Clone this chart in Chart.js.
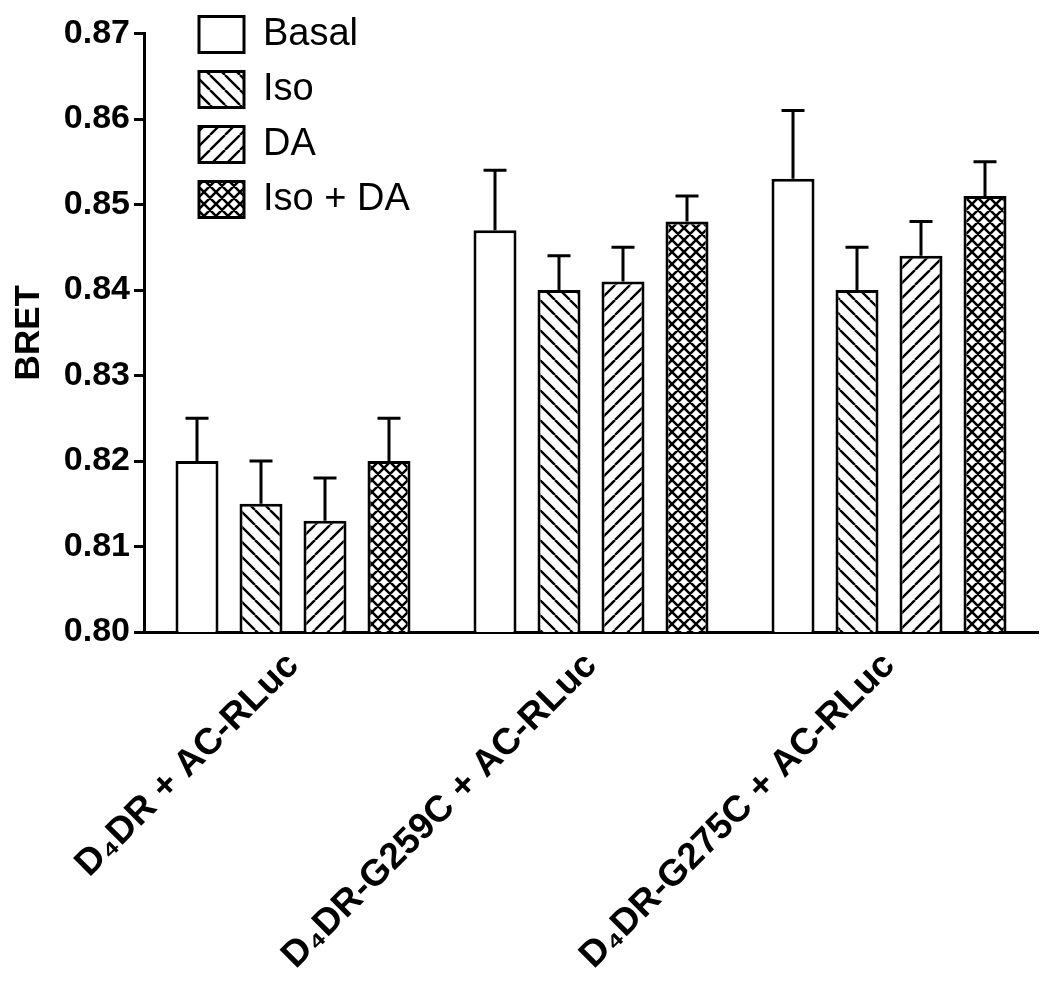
<!DOCTYPE html>
<html><head><meta charset="utf-8">
<script src="https://cdn.jsdelivr.net/npm/chart.js@4.4.1/dist/chart.umd.min.js"></script>
<style>html,body{margin:0;padding:0;background:#fff}#wrap{width:1050px;height:983px}</style>
</head><body><div id="wrap"><canvas id="c" width="1050" height="983"></canvas></div>
<script>
// ---- data ----
const categories = ['D\u2084DR + AC-RLuc', 'D\u2084DR-G259C + AC-RLuc', 'D\u2084DR-G275C + AC-RLuc'];
const seriesNames = ['Basal', 'Iso', 'DA', 'Iso + DA'];
const basal    = [0.820, 0.847, 0.853];
const basalSem = [0.005, 0.007, 0.008];
const iso      = [0.815, 0.840, 0.840];
const isoSem   = [0.005, 0.004, 0.005];
const da       = [0.813, 0.841, 0.844];
const daSem    = [0.005, 0.004, 0.004];
const isoDa    = [0.820, 0.848, 0.851];
const isoDaSem = [0.005, 0.003, 0.004];
const yTicks   = [0.80, 0.81, 0.82, 0.83, 0.84, 0.85, 0.86, 0.87];
const yTitle   = 'BRET';

const FONT = "'Liberation Sans', Arial, Helvetica, sans-serif";
Chart.defaults.font.family = FONT;
Chart.defaults.color = '#000';

function makePattern(kind) {
  const s = kind === 'cross' ? 12 : 15;
  const c = document.createElement('canvas');
  c.width = s; c.height = s;
  const g = c.getContext('2d');
  g.fillStyle = '#fff'; g.fillRect(0, 0, s, s);
  g.strokeStyle = '#000';
  g.lineWidth = kind === 'cross' ? 2.5 : 2.4;
  g.beginPath();
  for (let k = -1; k <= 1; k++) {
    if (kind === 'back' || kind === 'cross') { g.moveTo(k * s, 0); g.lineTo(k * s + s, s); }
    if (kind === 'fwd' || kind === 'cross') { g.moveTo(k * s, s); g.lineTo(k * s + s, 0); }
  }
  g.stroke();
  return g.createPattern(c, 'repeat');
}

const values = [basal, iso, da, isoDa];
const sems = [basalSem, isoSem, daSem, isoDaSem];
const fills = ['#ffffff', makePattern('back'), makePattern('fwd'), makePattern('cross')];

const datasets = seriesNames.map((name, i) => ({
  label: name,
  data: values[i],
  sem: sems[i],
  backgroundColor: fills[i],
  borderColor: '#000',
  borderWidth: 3,
  categoryPercentage: 0.859,
  barPercentage: 0.672
}));

const errorBars = {
  id: 'errorBars',
  afterDatasetsDraw(chart) {
    const ctx = chart.ctx;
    const yS = chart.scales.y;
    ctx.save();
    ctx.strokeStyle = '#000';
    ctx.lineWidth = 3;
    chart.data.datasets.forEach((ds, i) => {
      const meta = chart.getDatasetMeta(i);
      meta.data.forEach((bar, j) => {
        const top = yS.getPixelForValue(ds.data[j] + ds.sem[j]);
        ctx.beginPath();
        ctx.moveTo(bar.x, bar.y);
        ctx.lineTo(bar.x, top);
        ctx.moveTo(bar.x - 11.5, top);
        ctx.lineTo(bar.x + 11.5, top);
        ctx.stroke();
      });
    });
    ctx.restore();
  }
};

const legendPlace = {
  id: 'legendPlace',
  beforeDraw(chart) {
    const lg = chart.legend;
    if (!lg) return;
    const pad = lg.options.labels.padding;
    lg.left = 199 - pad;
    lg.top = 15.5 - pad;
    lg.bottom = lg.top + 300;
  }
};

new Chart(document.getElementById('c'), {
  type: 'bar',
  data: { labels: categories, datasets },
  options: {
    responsive: false,
    animation: false,
    devicePixelRatio: 1,
    layout: { padding: { left: 0, right: 12, top: 33.5, bottom: 0 } },
    plugins: {
      tooltip: { enabled: false },
      legend: {
        position: 'chartArea',
        align: 'start',
        labels: {
          boxWidth: 45, boxHeight: 36, padding: 17,
          font: { size: 38, family: FONT, weight: 'normal' },
          color: '#000'
        }
      }
    },
    scales: {
      x: {
        grid: { display: false, drawTicks: false },
        border: { display: true, color: '#000', width: 3 },
        ticks: {
          autoSkip: false, minRotation: 45, maxRotation: 45,
          font: { size: 37, weight: 'bold', family: FONT },
          color: '#000', padding: 12, labelOffset: 0
        },
        afterFit(s) { s.height = 351; }
      },
      y: {
        min: 0.80, max: 0.87,
        afterBuildTicks(s) { s.ticks = yTicks.map(v => ({ value: v })); },
        ticks: {
          callback: v => Number(v).toFixed(2),
          font: { size: 34, weight: 'bold', family: FONT },
          color: '#000', padding: 4
        },
        grid: { drawOnChartArea: false, drawTicks: true, tickLength: 10, tickWidth: 3, tickColor: '#000' },
        border: { display: true, color: '#000', width: 3 },
        title: {
          display: true, text: yTitle, color: '#000',
          font: { size: 35, weight: 'bold', family: FONT },
          padding: { top: 8, bottom: 0 }
        },
        afterFit(s) { s.width = 144; }
      }
    }
  },
  plugins: [errorBars, legendPlace]
});
</script>
</body></html>
